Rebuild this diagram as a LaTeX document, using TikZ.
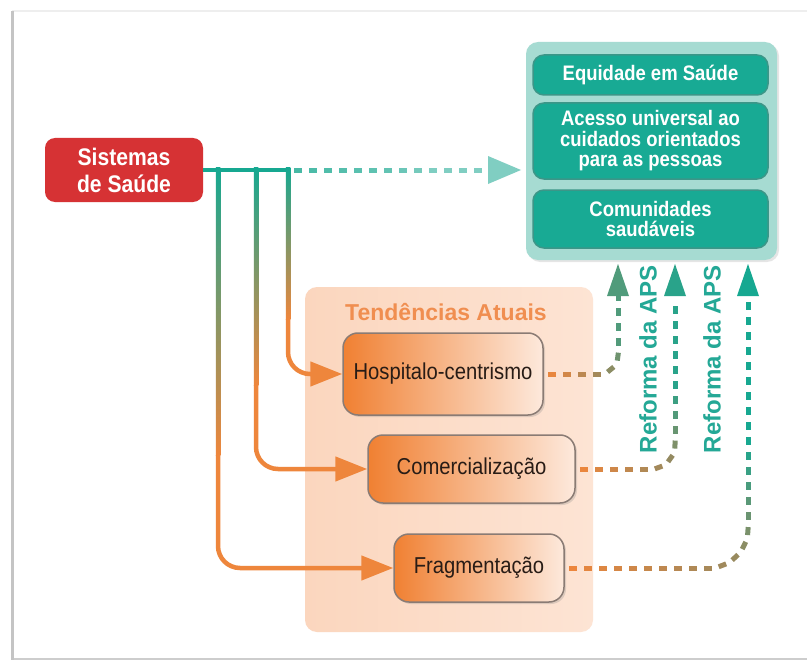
\documentclass[tikz,border=0pt]{standalone}
\usepackage{fontspec}
\setmainfont{Liberation Sans}
\newfontfamily\cond[FakeStretch=0.88]{Liberation Sans}
\usetikzlibrary{arrows.meta,decorations.markings,shadows,calc}

\definecolor{dteal}{RGB}{22,168,145}
\definecolor{dorange}{RGB}{238,134,60}
\definecolor{dolive}{RGB}{150,138,96}
\definecolor{boxteal}{RGB}{24,170,148}
\definecolor{boxedge}{RGB}{60,150,136}
\definecolor{goalfill}{RGB}{166,219,210}
\definecolor{sisred}{RGB}{214,50,52}
\definecolor{lteal}{RGB}{128,206,194}
\definecolor{mteal}{RGB}{70,185,165}
\definecolor{txtdark}{RGB}{40,28,22}
\definecolor{tendor}{RGB}{240,142,80}
\definecolor{reftxt}{RGB}{36,168,150}
\definecolor{oleft}{RGB}{240,128,50}
\definecolor{omid}{RGB}{245,165,115}
\definecolor{oright}{RGB}{253,233,220}
\definecolor{oedge}{RGB}{138,123,116}
\definecolor{pleft}{RGB}{251,214,190}
\definecolor{pright}{RGB}{253,228,212}
\definecolor{framel}{RGB}{196,196,196}
\definecolor{framet}{RGB}{238,238,238}
\definecolor{frameb}{RGB}{205,205,205}

\newcommand\dashmark[4]{%
  \pgfmathsetmacro\dmf{\pgfkeysvalueof{/pgf/decoration/mark info/distance from start}/\pgfdecoratedpathlength}%
  \ifdim\dmf pt<#1pt
    \pgfmathsetmacro\dmp{min(100,max(0,100*\dmf/#1))}%
    \colorlet{dmcol}{#3!\dmp!#2}%
  \else
    \pgfmathsetmacro\dmp{min(100,max(0,100*(\dmf-#1)/(0.45*(1-#1))))}%
    \colorlet{dmcol}{#4!\dmp!#3}%
  \fi
  \fill[dmcol, sharp corners] (-4pt,-2.5pt) rectangle (4pt,2.5pt);%
}

\tikzset{
  dgrad/.style n args={4}{decorate, decoration={markings,
      mark=between positions 4pt and 1 step 15pt with {\dashmark{#1}{#2}{#3}{#4}}}},
  sisbox/.style={rounded corners=10pt, fill=sisred, text=white, minimum width=158pt,
      minimum height=64pt, align=center, inner sep=0pt,
      font=\cond\bfseries\fontsize{24}{27}\selectfont},
  goalbox/.style={rounded corners=12pt, fill=goalfill, minimum width=251pt, minimum height=218pt,
      inner sep=0pt, drop shadow={shadow xshift=2pt, shadow yshift=-2pt, opacity=0.2}},
  gbox/.style={rounded corners=11pt, fill=boxteal, draw=boxedge, line width=1.5pt,
      minimum width=235pt, text=white, align=center, inner sep=0pt,
      font=\cond\bfseries\fontsize{21}{20.5}\selectfont},
  panelbox/.style={rounded corners=12pt, left color=pleft, right color=pright,
      minimum width=288pt, minimum height=345pt, inner sep=0pt},
  obox/.style={rounded corners=15pt, left color=oleft, middle color=omid, right color=oright, draw=oedge,
      line width=1.5pt, text=txtdark, inner sep=0pt,
      font=\cond\fontsize{23}{26}\selectfont,
      drop shadow={shadow xshift=2pt, shadow yshift=-2pt, opacity=0.25}},
  tline/.style={draw=dteal, line width=4.5pt},
  oarr/.style={draw=dorange, line width=4.5pt, rounded corners=22pt,
      -{Triangle[length=32pt,width=24pt]}},
  reftext/.style={text=reftxt, font=\bfseries\fontsize{24}{26}\selectfont, inner sep=0pt},
}

\begin{document}
\begin{tikzpicture}[x=1pt,y=-1pt]
\useasboundingbox (0,0) rectangle (807,661);
\fill[white] (0,0) rectangle (807,661);

% frame
\draw[framet, line width=2pt] (12,11) -- (807,11);
\draw[frameb, line width=2.5pt] (12,659) -- (807,659);
\draw[framel, line width=3pt] (12,11) -- (12,660);

% right goal panel
\node[goalbox] (goal) at (651.5,151) {};
\node[gbox, minimum height=40pt] (eq) at (650.5,75) {Equidade em Saúde};
\node[gbox, minimum height=76pt] (ac) at (650.5,141) {Acesso universal ao\\cuidados orientados\\para as pessoas};
\node[gbox, minimum height=58pt] (com) at (650.5,219) {Comunidades\\saudáveis};

% tendencias panel
\node[panelbox] (tend) at (449,459.5) {};
\node[text=tendor, font=\bfseries\fontsize{23}{26}\selectfont, inner sep=0pt] (ttl) at (446,312) {Tendências Atuais};
\node[obox, minimum width=200pt, minimum height=82pt] (hosp) at (443,374) {Hospitalo-centrismo};
\node[obox, minimum width=207pt, minimum height=68pt] (comer) at (471.5,469) {Comercialização};
\node[obox, minimum width=170pt, minimum height=68pt] (frag) at (479,568) {Fragmentação};

% sistemas
\node[sisbox] (sis) at (124,170) {Sistemas\\de Saúde};

% junctions
\coordinate (j1) at (218,170);
\coordinate (j2) at (256,170);
\coordinate (j3) at (288,170);
\coordinate (g1) at (218,455);
\coordinate (g2) at (256,385);
\coordinate (g3) at (288,319);

\draw[tline] (sis.east) -- ($(j3)+(2.25,0)$);
\foreach \j/\g in {j1/g1,j2/g2,j3/g3}{
  \shade[top color=dteal, bottom color=dorange] ($(\j)+(-2.25,-2.25)$) rectangle ($(\g)+(2.25,0)$);
}
\draw[oarr] (g1) |- (frag.west);
\draw[oarr] (g2) |- (comer.west);
\draw[oarr] (g3) |- (hosp.west);

% top dashed arrow
\coordinate (ta) at (294,170);
\coordinate (tb) at (488,170);
\coordinate (tc) at (521,170);
\path[dgrad={0.5}{mteal}{mteal!50!lteal}{lteal}] (ta) -- (tb);
\fill[lteal] ($(tb)+(0,-14)$) -- (tc) -- ($(tb)+(0,14)$) -- cycle;

% return arrows
\coordinate (b1) at (618,296); \coordinate (t1) at (618,264);
\coordinate (b2) at (675,296); \coordinate (t2) at (675,264);
\coordinate (b3) at (748,296); \coordinate (t3) at (748,264);

\path[dgrad={0.42}{dorange}{dolive}{dteal!55!dolive}, rounded corners=20pt] ($(hosp.east)+(4,0)$) -| (b1);
\path[dgrad={0.36}{dorange}{dolive}{dteal!85!dolive}, rounded corners=25pt] ($(comer.east)+(4,0)$) -| (b2);
\path[dgrad={0.40}{dorange}{dolive}{dteal}, rounded corners=40pt] ($(frag.east)+(4,0)$) -| (b3);

\fill[dteal!55!dolive] ($(b1)+(-11,0)$) -- (t1) -- ($(b1)+(11,0)$) -- cycle;
\fill[dteal!85!dolive] ($(b2)+(-11,0)$) -- (t2) -- ($(b2)+(11,0)$) -- cycle;
\fill[dteal] ($(b3)+(-11,0)$) -- (t3) -- ($(b3)+(11,0)$) -- cycle;

\node[reftext, rotate=90] (r1) at (648,359) {Reforma da APS};
\node[reftext, rotate=90] (r2) at (712,359) {Reforma da APS};
\end{tikzpicture}
\end{document}
